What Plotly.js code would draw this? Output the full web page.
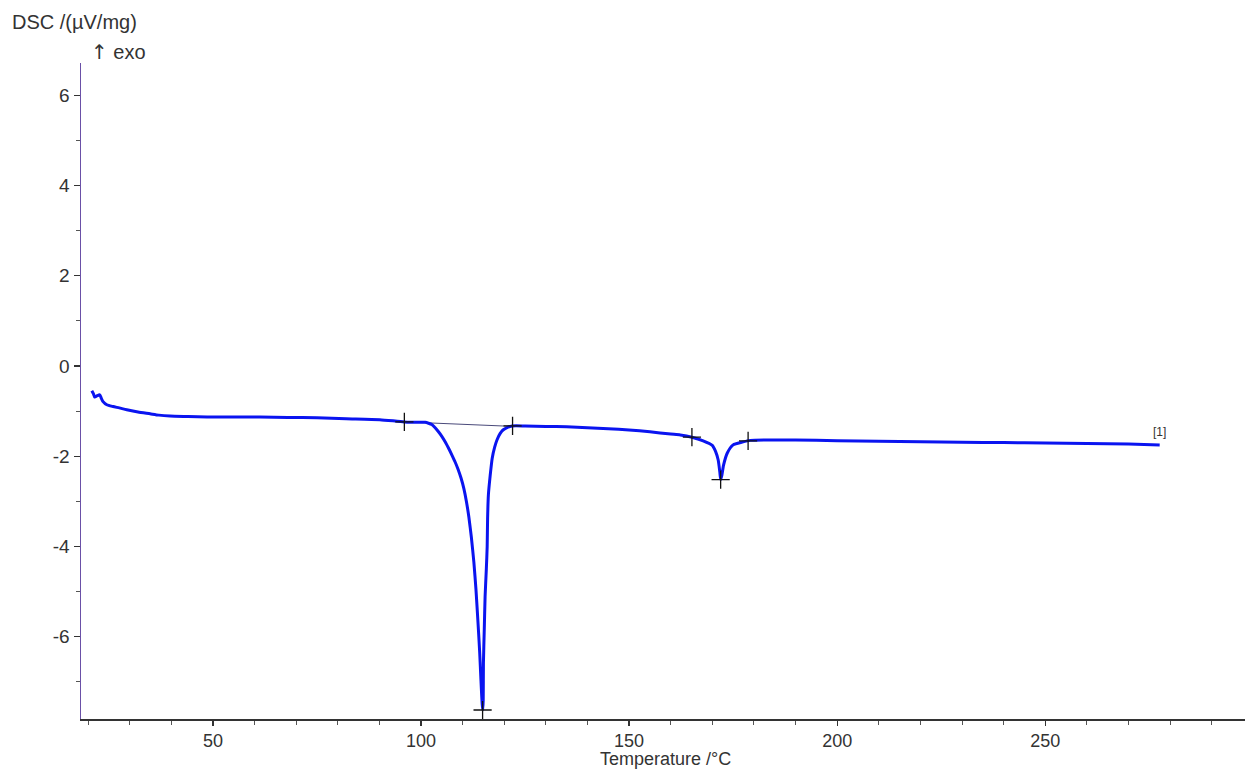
<!DOCTYPE html>
<html>
<head>
<meta charset="utf-8">
<script src="https://cdn.plot.ly/plotly-3.0.1.min.js"></script>
<style>html,body{margin:0;padding:0;background:#fff;}#chart{width:1249px;height:770px;}</style>
</head>
<body>
<div id="chart"></div>
<script>
// DSC curve (Temperature /°C, DSC /(µV/mg))
var temperature = [20.9,21.3,21.6,22.2,22.8,23.2,23.6,24.5,26.0,27.5,29.3,32.0,34.9,37.0,39.7,44.0,48.6,55.0,61.3,68.0,75.0,82.0,90.1,96.0,100.0,101.0,101.8,102.6,103.4,104.2,105.0,105.8,106.6,107.4,108.2,108.9,109.6,110.3,110.9,111.5,112.1,112.7,113.2,113.7,114.1,114.4,114.7,114.85,114.95,115.0,115.2,115.4,115.7,115.9,116.0,116.2,116.6,117.1,117.7,118.3,119.0,119.7,120.8,121.9,125.0,130.0,135.0,140.0,145.0,150.0,155.0,160.0,162.3,165.1,167.8,170.0,170.8,171.4,171.8,172.0,172.3,172.7,173.6,175.0,177.2,179.1,185.0,195.0,200.0,210.0,220.0,230.0,240.0,250.0,260.0,270.0,277.5];
var dsc = [-0.55,-0.62,-0.69,-0.66,-0.64,-0.72,-0.79,-0.86,-0.90,-0.93,-0.97,-1.02,-1.06,-1.09,-1.11,-1.12,-1.13,-1.13,-1.13,-1.14,-1.15,-1.17,-1.19,-1.24,-1.25,-1.25,-1.27,-1.30,-1.37,-1.46,-1.56,-1.68,-1.82,-1.97,-2.13,-2.29,-2.48,-2.72,-3.00,-3.35,-3.80,-4.35,-4.95,-5.70,-6.35,-6.96,-7.50,-7.63,-7.41,-6.59,-5.85,-5.12,-4.50,-4.01,-3.40,-2.85,-2.45,-2.05,-1.80,-1.63,-1.50,-1.42,-1.36,-1.33,-1.33,-1.34,-1.35,-1.37,-1.39,-1.42,-1.46,-1.51,-1.53,-1.58,-1.66,-1.76,-1.90,-2.08,-2.35,-2.52,-2.42,-2.20,-1.93,-1.75,-1.69,-1.65,-1.64,-1.65,-1.66,-1.67,-1.68,-1.69,-1.70,-1.71,-1.72,-1.73,-1.75];

// Evaluation markers (+)
var markT = [96.0, 122.0, 114.8, 165.1, 172.0, 178.6];
var markV = [-1.24, -1.33, -7.63, -1.58, -2.52, -1.66];

// Integration baseline of first peak
var baseT = [96.0, 122.0];
var baseV = [-1.24, -1.34];

// Tick labels
var yTickVals = [-6, -4, -2, 0, 2, 4, 6];
var yTickText = ["-6", "-4", "-2", "0", "2", "4", "6"];
var xTickVals = [50, 100, 150, 200, 250];
var xTickText = ["50", "100", "150", "200", "250"];

var traces = [
  {x: baseT, y: baseV, mode: 'lines', line: {color: '#4a4a7a', width: 1}, hoverinfo: 'skip'},
  {x: temperature, y: dsc, mode: 'lines', line: {color: '#0a14f0', width: 3, shape: 'spline', smoothing: 0.6}},
  {x: markT, y: markV, mode: 'markers',
   marker: {symbol: 'cross-thin', size: 13, line: {color: '#111111', width: 1.3}, color: '#111111'}}
];

var layout = {
  width: 1249, height: 770,
  margin: {l: 81, r: 4, t: 63, b: 51},
  paper_bgcolor: '#ffffff', plot_bgcolor: '#ffffff',
  showlegend: false,
  font: {family: 'Liberation Sans, Arial, sans-serif', color: '#333333', size: 19},
  xaxis: {
    range: [18.3, 298], showgrid: false, zeroline: false,
    showline: true, linecolor: '#333333', linewidth: 1.5,
    tickmode: 'array', tickvals: xTickVals, ticktext: xTickText,
    ticks: 'outside', ticklen: 5, tickcolor: '#333333', tickwidth: 1.2,
    minor: {dtick: 10, tick0: 0, ticks: 'outside', ticklen: 4, tickcolor: '#555555', tickwidth: 1, showgrid: false},
    tickfont: {size: 18, color: '#333333'}
  },
  yaxis: {
    range: [-7.83, 6.72], showgrid: false, zeroline: false,
    showline: true, linecolor: '#6a50a7', linewidth: 1.5,
    tickmode: 'array', tickvals: yTickVals, ticktext: yTickText,
    ticks: 'outside', ticklen: 6, tickcolor: '#333333', tickwidth: 1.2,
    minor: {dtick: 1, tick0: 0, ticks: 'outside', ticklen: 4, tickcolor: '#555555', tickwidth: 1, showgrid: false},
    tickfont: {size: 19, color: '#333333'}
  },
  annotations: [
    {xref: 'paper', yref: 'paper', x: 0.502, y: -0.0615, xanchor: 'center', yanchor: 'middle',
     text: 'Temperature /°C', showarrow: false, font: {size: 18, color: '#333333'}},
    {xref: 'paper', yref: 'paper', x: -0.061, y: 1.0625, xanchor: 'left', yanchor: 'middle',
     text: 'DSC /(µV/mg)', showarrow: false, font: {size: 20, color: '#333333'}},
    {xref: 'paper', yref: 'paper', x: 0.007, y: 1.017, xanchor: 'left', yanchor: 'middle',
     text: '<span style="font-family:DejaVu Sans">↑</span> exo', showarrow: false, font: {size: 20, color: '#333333'}},
    {xref: 'x', yref: 'y', x: 277.5, y: -1.46, xanchor: 'center', yanchor: 'middle',
     text: '[1]', showarrow: false, font: {size: 12, color: '#333333'}}
  ]
};

Plotly.newPlot('chart', traces, layout, {displayModeBar: false, staticPlot: true});
</script>
</body>
</html>
